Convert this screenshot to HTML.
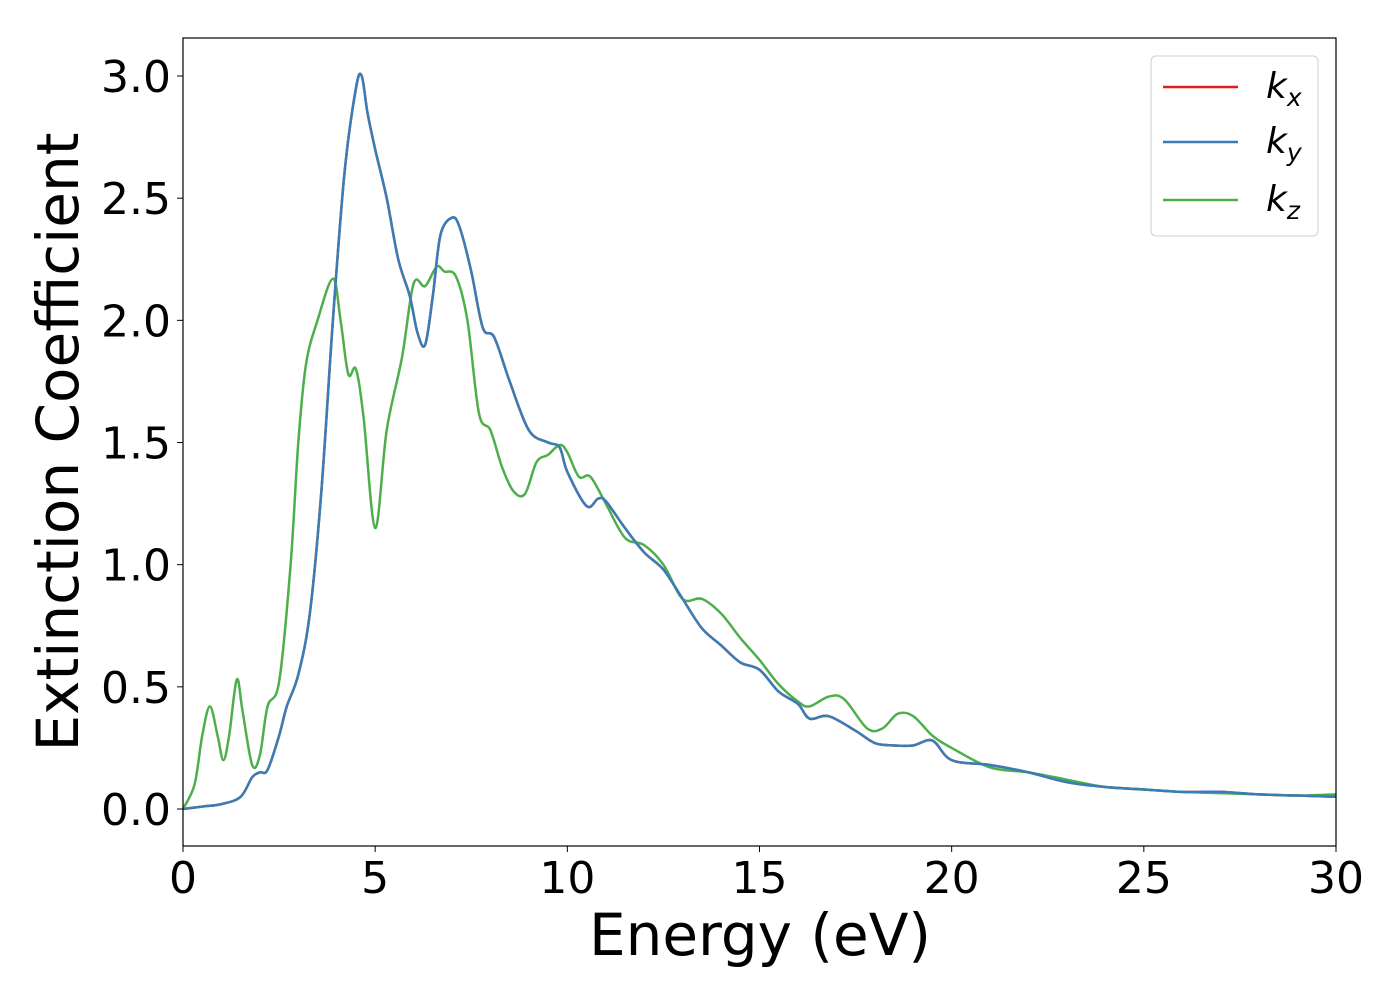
<!DOCTYPE html>
<html><head><meta charset="utf-8"><style>
body{margin:0;background:#fff}
svg text{font-family:"DejaVu Sans","Liberation Sans",sans-serif;fill:#000}
</style></head><body>
<svg width="1400" height="1000" id="c">
<rect x="0" y="0" width="1400" height="1000" fill="#fff"/>
<g id="plot"></g>
<rect x="183" y="38" width="1153" height="808" fill="none" stroke="#000" stroke-width="1.2"/>
<g id="axes"></g>
<text x="760" y="955" font-size="58" text-anchor="middle">Energy (eV)</text>
<text transform="translate(78,442) rotate(-90)" font-size="58" text-anchor="middle">Extinction Coefficient</text>
<g>
<rect x="1151" y="56" width="167" height="180" rx="5" fill="#fff" fill-opacity="0.8" stroke="#ccc"/>
<g><line x1="1163" y1="87" x2="1238" y2="87" stroke="#e41a1c" stroke-width="2.5"/><text x="1266" y="98" font-size="36" font-style="italic">k<tspan font-size="25" dy="8">x</tspan></text></g>
<g><line x1="1163" y1="142" x2="1238" y2="142" stroke="#377eb8" stroke-width="2.5"/><text x="1266" y="153" font-size="36" font-style="italic">k<tspan font-size="25" dy="8">y</tspan></text></g>
<g><line x1="1163" y1="200" x2="1238" y2="200" stroke="#4daf4a" stroke-width="2.5"/><text x="1266" y="211" font-size="36" font-style="italic">k<tspan font-size="25" dy="8">z</tspan></text></g>
</g>
</svg>
<script>
const xy_E=[0,0.5,1,1.5,1.8,2,2.2,2.5,2.7,3,3.3,3.6,3.9,4.2,4.5,4.65,4.8,5,5.3,5.6,5.9,6.1,6.3,6.5,6.7,7,7.2,7.5,7.8,8.1,8.5,9,9.5,9.8,10,10.5,10.8,11,11.5,12,12.5,13,13.5,14,14.5,15,15.5,16,16.3,16.8,17.5,18,18.5,19,19.5,20,21,22,23,24,25,26,27,28,29,30];
const xy_K=[0,0.01,0.02,0.05,0.13,0.15,0.16,0.3,0.42,0.55,0.8,1.3,2.0,2.6,2.95,3.0,2.85,2.7,2.5,2.25,2.1,1.95,1.9,2.1,2.35,2.42,2.38,2.2,1.97,1.93,1.75,1.55,1.5,1.48,1.38,1.24,1.27,1.26,1.15,1.05,0.98,0.86,0.74,0.67,0.6,0.57,0.48,0.43,0.37,0.38,0.32,0.27,0.26,0.26,0.28,0.2,0.18,0.15,0.11,0.09,0.08,0.07,0.07,0.06,0.055,0.05];
const z_E=[0,0.3,0.5,0.7,0.9,1.05,1.2,1.4,1.55,1.8,2,2.2,2.5,2.8,3,3.2,3.5,3.9,4.1,4.3,4.5,4.7,5,5.3,5.7,6,6.3,6.6,6.8,7.1,7.4,7.7,8,8.3,8.6,8.9,9.2,9.5,9.8,10,10.3,10.6,11,11.5,12,12.5,13,13.5,14,14.5,15,15.5,16,16.3,16.8,17.2,17.8,18.2,18.6,19,19.5,20,21,22,23,24,25,26,27,28,29,30];
const z_K=[0,0.1,0.3,0.42,0.3,0.2,0.3,0.53,0.4,0.18,0.22,0.42,0.52,1.0,1.5,1.82,2.0,2.17,2.0,1.78,1.8,1.6,1.15,1.55,1.85,2.15,2.14,2.22,2.2,2.18,2.0,1.62,1.55,1.4,1.3,1.29,1.42,1.45,1.49,1.46,1.36,1.36,1.25,1.11,1.08,1.0,0.86,0.86,0.8,0.7,0.61,0.51,0.44,0.42,0.46,0.45,0.33,0.33,0.39,0.38,0.3,0.25,0.17,0.15,0.12,0.09,0.08,0.07,0.065,0.06,0.055,0.06];
const xTicks=[0,5,10,15,20,25,30];
const yTicks=[0.0,0.5,1.0,1.5,2.0,2.5,3.0];
const NS='http://www.w3.org/2000/svg';
const X=v=>183+v*(1153/30), Y=v=>809-v*244.33;
function path(E,K){const p=E.map((e,i)=>[X(e),Y(K[i])]);let d='M'+p[0][0]+','+p[0][1];
for(let i=0;i<p.length-1;i++){const a=p[i-1]||p[i],b=p[i],c=p[i+1],e=p[i+2]||c;
d+=` C${b[0]+(c[0]-a[0])/6},${b[1]+(c[1]-a[1])/6} ${c[0]-(e[0]-b[0])/6},${c[1]-(e[1]-b[1])/6} ${c[0]},${c[1]}`;}return d;}
const plot=document.getElementById('plot');
function line(E,K,col,name){const el=document.createElementNS(NS,'path');el.setAttribute('d',path(E,K));el.setAttribute('fill','none');el.setAttribute('stroke',col);el.setAttribute('stroke-width','2.5');


plot.appendChild(el);}
line(xy_E,xy_K,'#e41a1c','kx-line');
line(z_E,z_K,'#4daf4a','kz-line');
line(xy_E,xy_K,'#377eb8','ky-line');
const ax=document.getElementById('axes');
xTicks.forEach(t=>{const l=document.createElementNS(NS,'line');l.setAttribute('x1',X(t));l.setAttribute('x2',X(t));l.setAttribute('y1',846);l.setAttribute('y2',852);l.setAttribute('stroke','#000');


ax.appendChild(l);
const tx=document.createElementNS(NS,'text');tx.setAttribute('x',X(t));tx.setAttribute('y',893);tx.setAttribute('font-size','44');tx.setAttribute('text-anchor','middle');tx.textContent=t;


ax.appendChild(tx);});
yTicks.forEach(t=>{const l=document.createElementNS(NS,'line');l.setAttribute('x1',177);l.setAttribute('x2',183);l.setAttribute('y1',Y(t));l.setAttribute('y2',Y(t));l.setAttribute('stroke','#000');


ax.appendChild(l);
const tx=document.createElementNS(NS,'text');tx.setAttribute('x',171);tx.setAttribute('y',Y(t)+16);tx.setAttribute('font-size','44');tx.setAttribute('text-anchor','end');tx.textContent=t.toFixed(1);


ax.appendChild(tx);});
</script>
</body></html>
